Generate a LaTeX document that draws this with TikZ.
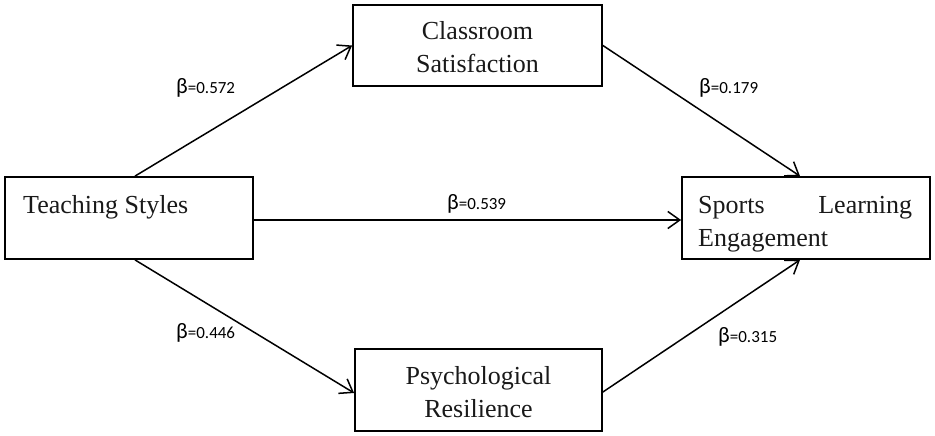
\documentclass[tikz,border=0pt]{standalone}
\usepackage{fontspec}
\setmainfont{Liberation Serif}
\newfontfamily\lblfont{Carlito}
\usetikzlibrary{arrows.meta}
\tikzset{
  box/.style={draw=black, line width=1.8pt, inner sep=0pt},
  boxtext/.style={inner sep=0pt, font=\fontsize{26}{33}\selectfont, text=black!90},
  conn/.style={line width=1.5pt, -{Straight Barb[length=12pt,width=17pt,line width=1.5pt]}},
  coef/.style={inner sep=0pt, anchor=base west, font=\lblfont\fontsize{17}{18}\selectfont}
}
\newcommand{\bcoef}[1]{{\fontsize{22}{22}\selectfont β}#1}
\begin{document}
\begin{tikzpicture}[x=1pt,y=-1pt]
\useasboundingbox (0,0) rectangle (935,436);
% boxes
\node[box, minimum width=248pt, minimum height=82pt] (ts)  at (129,218) {};
\node[box, minimum width=249pt, minimum height=81pt] (cs)  at (477.5,45.5) {};
\node[box, minimum width=247pt, minimum height=82pt] (pr)  at (478.5,390) {};
\node[box, minimum width=248pt, minimum height=82pt] (sle) at (806,218) {};
% box texts
\node[boxtext, anchor=base west] (tst) at (23,213) {Teaching Styles};
\node[boxtext, anchor=base] (cst1) at (477.5,39.5) {Classroom};
\node[boxtext, anchor=base] (cst2) at (477.5,73) {Satisfaction};
\node[boxtext, anchor=base] (prt1) at (478.5,384) {Psychological};
\node[boxtext, anchor=base] (prt2) at (478.5,417) {Resilience};
\node[boxtext, anchor=base west] (slet1) at (698,213) {\makebox[214pt][s]{Sports\hfill Learning}};
\node[boxtext, anchor=base west] (slet2) at (698,246) {Engagement};
% connectors
\draw[conn] ([xshift=6pt]ts.north) -- (cs.west);
\draw[conn] ([xshift=6pt]ts.south) -- ([yshift=-3pt]pr.west);
\draw[conn] ([yshift=-2pt]ts.east) -- ([yshift=-2pt]sle.west);
\draw[conn] (cs.east) -- ([xshift=-6pt]sle.north);
\draw[conn] ([yshift=-2pt]pr.east) -- ([xshift=-6pt]sle.south);
% coefficients
\node[coef] (b1) at (176,93) {\bcoef{=0.572}};
\node[coef] (b2) at (447,209) {\bcoef{=0.539}};
\node[coef] (b3) at (699,93) {\bcoef{=0.179}};
\node[coef] (b4) at (176,338) {\bcoef{=0.446}};
\node[coef] (b5) at (718,342) {\bcoef{=0.315}};
\end{tikzpicture}
\end{document}
